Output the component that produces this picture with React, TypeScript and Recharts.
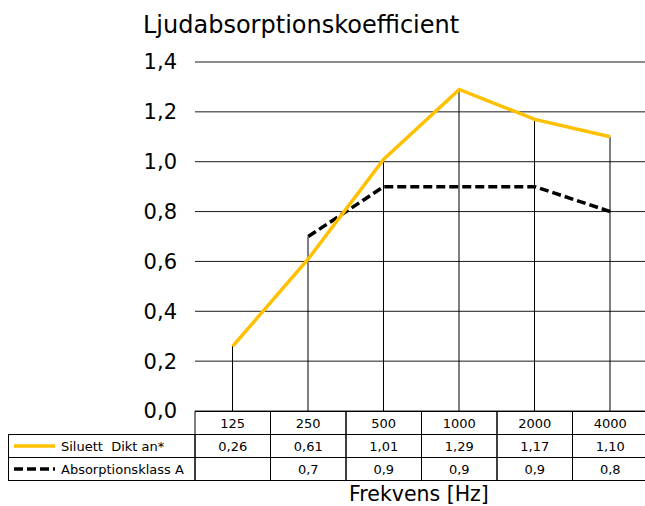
import { ComposedChart, Line, Bar, XAxis, YAxis, CartesianGrid } from "recharts";

const CATEGORIES = ["125", "250", "500", "1000", "2000", "4000"];
const SILUETT = [0.26, 0.61, 1.01, 1.29, 1.17, 1.1];
const KLASS_A: (number | null)[] = [null, 0.7, 0.9, 0.9, 0.9, 0.8];
const Y_TICKS = [0, 0.2, 0.4, 0.6, 0.8, 1.0, 1.2, 1.4];

const SERIES_NAMES = ["Siluett  Dikt an*", "Absorptionsklass A"];

const data = CATEGORIES.map((c, i) => ({
  freq: c,
  siluett: SILUETT[i],
  klassA: KLASS_A[i],
  drop: Math.max(SILUETT[i], KLASS_A[i] ?? 0),
}));

const CHART_W = 648;
const CHART_H = 506;
const PLOT_LEFT = 195;
const CELL_W = (CHART_W - PLOT_LEFT) / CATEGORIES.length;
const ROW_H = 23;
const TABLE_LEFT = 8.5;
const FONT = '"DejaVu Sans", Verdana, sans-serif';

const comma = (v: number, d: number) => v.toFixed(d).replace(".", ",");

function TableTick(props: any) {
  const { x, y, payload, index } = props;
  const i = index ?? payload.index;
  const top = Math.round(y) + 0.5;
  const left = x - CELL_W / 2;
  const a = KLASS_A[i];
  const cells = [payload.value, comma(SILUETT[i], 2), a == null ? "" : comma(a, 1)];
  return (
    <g>
      {cells.map((t, r) => (
        <g key={r}>
          <rect x={left} y={top + r * ROW_H} width={CELL_W} height={ROW_H} fill="none" stroke="#000" strokeWidth={1} />
          <text x={x} y={top + r * ROW_H + 16.5} textAnchor="middle" fontSize={13} fill="#000" fontFamily={FONT}>
            {t}
          </text>
        </g>
      ))}
      {i === 0 && (
        <g>
          {SERIES_NAMES.map((name, r) => {
            const ry = top + (r + 1) * ROW_H;
            return (
              <g key={name}>
                <rect x={TABLE_LEFT} y={ry} width={left - TABLE_LEFT} height={ROW_H} fill="none" stroke="#000" strokeWidth={1} />
                <line
                  x1={14}
                  x2={55}
                  y1={ry + 11.5}
                  y2={ry + 11.5}
                  stroke={r === 0 ? "#FFC000" : "#000"}
                  strokeWidth={3.5}
                  strokeDasharray={r === 0 ? undefined : "9 4"}
                />
                <text x={61} y={ry + 16.5} fontSize={13} fill="#000" fontFamily={FONT} style={{ whiteSpace: "pre" }}>
                  {name}
                </text>
              </g>
            );
          })}
        </g>
      )}
    </g>
  );
}

export default function App() {
  return (
    <div
      style={{
        position: "absolute",
        left: 0,
        top: 0,
        width: 645,
        height: 506,
        overflow: "hidden",
        background: "#fff",
        fontFamily: FONT,
      }}
    >
      <ComposedChart
        width={CHART_W}
        height={CHART_H}
        data={data}
        margin={{ top: 62, right: 0, bottom: 25, left: PLOT_LEFT - 60 }}
      >
        <CartesianGrid vertical={false} stroke="#1a1a1a" strokeWidth={1} />
        <XAxis
          dataKey="freq"
          height={70}
          axisLine={false}
          tickLine={false}
          tickSize={0}
          tickMargin={0}
          interval={0}
          tick={<TableTick />}
        />
        <YAxis
          width={60}
          domain={[0, 1.4]}
          ticks={Y_TICKS}
          axisLine={false}
          tickLine={false}
          tickSize={0}
          tickMargin={18}
          tick={{ fontSize: 21, fill: "#000", fontFamily: FONT }}
          tickFormatter={(v: number) => comma(v, 1)}
        />
        <Bar dataKey="drop" barSize={1} fill="#000" isAnimationActive={false} />
        <Line
          dataKey="klassA"
          type="linear"
          stroke="#000"
          strokeWidth={3.5}
          strokeDasharray="9 4"
          dot={false}
          activeDot={false}
          isAnimationActive={false}
        />
        <Line
          dataKey="siluett"
          type="linear"
          stroke="#FFC000"
          strokeWidth={3.5}
          dot={false}
          activeDot={false}
          isAnimationActive={false}
        />
      </ComposedChart>
      <div
        style={{ position: "absolute", left: 143, top: 13, fontSize: 24, lineHeight: "24px", color: "#000", whiteSpace: "nowrap" }}
      >
        Ljudabsorptionskoefficient
      </div>
      <div
        style={{ position: "absolute", left: 349, top: 484, fontSize: 20.5, lineHeight: "20px", color: "#000", whiteSpace: "nowrap" }}
      >
        Frekvens [Hz]
      </div>
    </div>
  );
}
